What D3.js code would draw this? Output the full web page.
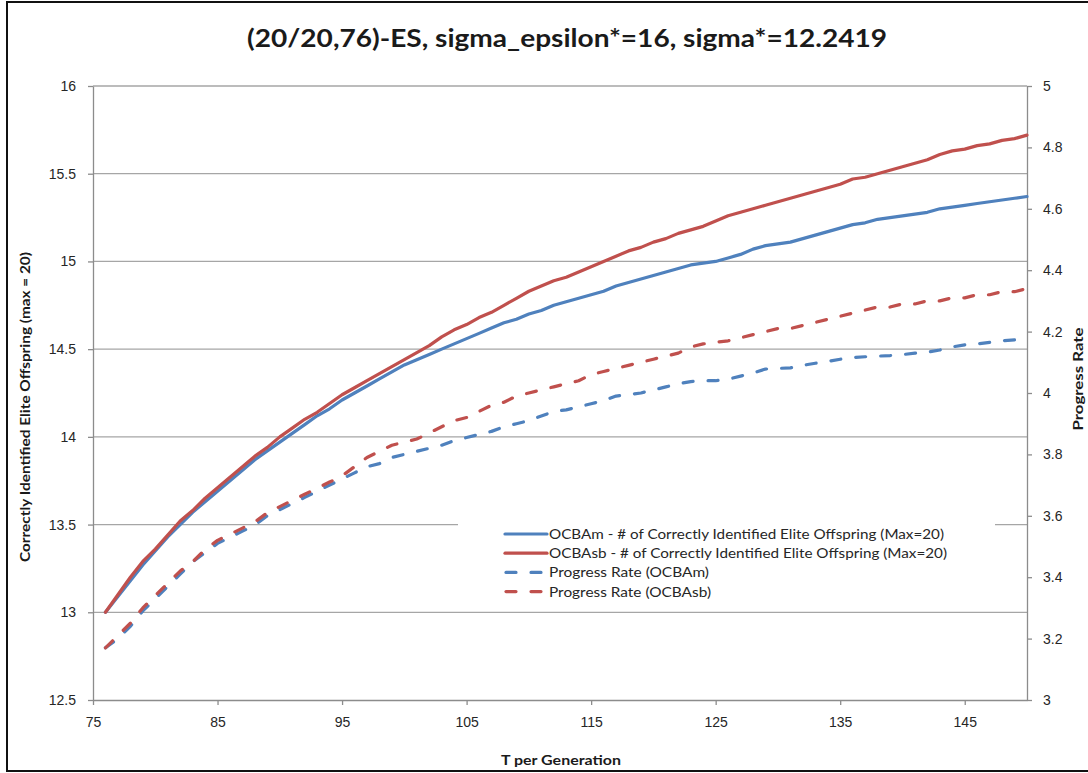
<!DOCTYPE html>
<html>
<head>
<meta charset="utf-8">
<script src="https://cdn.jsdelivr.net/npm/d3@7/dist/d3.min.js"></script>
<style>
  html, body { margin: 0; padding: 0; background: #fff; }
  svg { display: block; font-family: Lato, "Open Sans", sans-serif; }
  .axis text { font-size: 14px; fill: #262626; }
  .axis path, .axis line { stroke: #8c8c8c; stroke-width: 1.3; }
  .grid line { stroke: #a6a6a6; stroke-width: 1.3; }
</style>
</head>
<body>
<svg id="chart" width="1088" height="773"></svg>
<script>
(function() {
  "use strict";

  // T per generation (x)
  var generations = [
    76, 77, 78, 79, 80, 81, 82, 83, 84, 85, 86, 87, 88, 89, 90, 91, 92, 93, 94, 95,
    96, 97, 98, 99, 100, 101, 102, 103, 104, 105, 106, 107, 108, 109, 110, 111, 112, 113, 114, 115,
    116, 117, 118, 119, 120, 121, 122, 123, 124, 125, 126, 127, 128, 129, 130, 131, 132, 133, 134, 135,
    136, 137, 138, 139, 140, 141, 142, 143, 144, 145, 146, 147, 148, 149, 150
  ];

  // # of correctly identified elite offspring (left axis)
  var eliteOCBAm = [
    13.00, 13.09, 13.18, 13.27, 13.35, 13.43, 13.50, 13.57, 13.63, 13.69, 13.75, 13.81, 13.87, 13.92, 13.97, 14.02, 14.07, 14.12, 14.16, 14.21,
    14.25, 14.29, 14.33, 14.37, 14.41, 14.44, 14.47, 14.50, 14.53, 14.56, 14.59, 14.62, 14.65, 14.67, 14.70, 14.72, 14.75, 14.77, 14.79, 14.81,
    14.83, 14.86, 14.88, 14.90, 14.92, 14.94, 14.96, 14.98, 14.99, 15.00, 15.02, 15.04, 15.07, 15.09, 15.10, 15.11, 15.13, 15.15, 15.17, 15.19,
    15.21, 15.22, 15.24, 15.25, 15.26, 15.27, 15.28, 15.30, 15.31, 15.32, 15.33, 15.34, 15.35, 15.36, 15.37
  ];
  var eliteOCBAsb = [
    13.00, 13.10, 13.20, 13.29, 13.36, 13.44, 13.52, 13.58, 13.65, 13.71, 13.77, 13.83, 13.89, 13.94, 14.00, 14.05, 14.10, 14.14, 14.19, 14.24,
    14.28, 14.32, 14.36, 14.40, 14.44, 14.48, 14.52, 14.57, 14.61, 14.64, 14.68, 14.71, 14.75, 14.79, 14.83, 14.86, 14.89, 14.91, 14.94, 14.97,
    15.00, 15.03, 15.06, 15.08, 15.11, 15.13, 15.16, 15.18, 15.20, 15.23, 15.26, 15.28, 15.30, 15.32, 15.34, 15.36, 15.38, 15.40, 15.42, 15.44,
    15.47, 15.48, 15.50, 15.52, 15.54, 15.56, 15.58, 15.61, 15.63, 15.64, 15.66, 15.67, 15.69, 15.70, 15.72
  ];

  // progress rate (right axis)
  var progressOCBAm = [
    3.17, 3.20, 3.24, 3.29, 3.33, 3.37, 3.41, 3.45, 3.48, 3.51, 3.53, 3.55, 3.57, 3.60, 3.62, 3.64, 3.66, 3.68, 3.70, 3.72,
    3.74, 3.76, 3.77, 3.79, 3.80, 3.81, 3.82, 3.83, 3.845, 3.855, 3.865, 3.875, 3.89, 3.90, 3.91, 3.925, 3.94, 3.945, 3.955, 3.965,
    3.975, 3.99, 3.995, 4.00, 4.01, 4.02, 4.03, 4.037, 4.04, 4.04, 4.045, 4.055, 4.065, 4.078, 4.08, 4.082, 4.09, 4.097, 4.103, 4.11,
    4.115, 4.118, 4.12, 4.122, 4.125, 4.13, 4.133, 4.14, 4.15, 4.157, 4.16, 4.165, 4.17, 4.173, 4.175
  ];
  var progressOCBAsb = [
    3.17, 3.21, 3.25, 3.30, 3.34, 3.38, 3.42, 3.45, 3.49, 3.52, 3.54, 3.56, 3.58, 3.61, 3.63, 3.65, 3.67, 3.69, 3.71, 3.73,
    3.76, 3.79, 3.81, 3.83, 3.84, 3.85, 3.87, 3.89, 3.91, 3.92, 3.94, 3.96, 3.97, 3.99, 4.00, 4.01, 4.02, 4.03, 4.04, 4.06,
    4.07, 4.08, 4.09, 4.10, 4.11, 4.12, 4.13, 4.15, 4.16, 4.165, 4.17, 4.18, 4.19, 4.20, 4.21, 4.21, 4.22, 4.23, 4.24, 4.25,
    4.26, 4.27, 4.28, 4.28, 4.29, 4.29, 4.30, 4.30, 4.31, 4.31, 4.32, 4.32, 4.33, 4.33, 4.34
  ];

  var xTicks = [75, 85, 95, 105, 115, 125, 135, 145];
  var leftTicks = [12.5, 13, 13.5, 14, 14.5, 15, 15.5, 16];
  var rightTicks = [3, 3.2, 3.4, 3.6, 3.8, 4, 4.2, 4.4, 4.6, 4.8, 5];

  var seriesNames = [
    'OCBAm - # of Correctly Identified Elite Offspring (Max=20)',
    'OCBAsb - # of Correctly Identified Elite Offspring (Max=20)',
    'Progress Rate (OCBAm)',
    'Progress Rate (OCBAsb)'
  ];

  var BLUE = '#4f81bd';
  var RED = '#c0504d';
  var DASH = '10,15';

  var plot = { left: 93, right: 1027, top: 86, bottom: 700 };

  var svg = d3.select('#chart');

  var x = d3.scaleLinear().domain([75, 150]).range([plot.left, plot.right]);
  var yLeft = d3.scaleLinear().domain([12.5, 16]).range([plot.bottom, plot.top]);
  var yRight = d3.scaleLinear().domain([3, 5]).range([plot.bottom, plot.top]);

  // chart frame
  svg.append('rect')
    .attr('x', 7).attr('y', 2)
    .attr('width', 1100).attr('height', 769)
    .attr('fill', 'none')
    .attr('stroke', '#111')
    .attr('stroke-width', 2);

  // horizontal gridlines (left axis)
  svg.append('g')
    .attr('class', 'grid')
    .selectAll('line')
    .data(leftTicks.slice(1))
    .enter().append('line')
    .attr('x1', plot.left).attr('x2', plot.right)
    .attr('y1', function(d) { return yLeft(d); })
    .attr('y2', function(d) { return yLeft(d); });

  var fmt = function(d) { return String(d); };

  svg.append('g')
    .attr('class', 'axis')
    .attr('transform', 'translate(0,' + plot.bottom + ')')
    .call(d3.axisBottom(x).tickValues(xTicks).tickFormat(fmt)
      .tickSize(5).tickSizeOuter(0).tickPadding(12));

  svg.append('g')
    .attr('class', 'axis')
    .attr('transform', 'translate(' + plot.left + ',0)')
    .call(d3.axisLeft(yLeft).tickValues(leftTicks).tickFormat(fmt)
      .tickSize(5).tickSizeOuter(0).tickPadding(12));

  svg.append('g')
    .attr('class', 'axis')
    .attr('transform', 'translate(' + plot.right + ',0)')
    .call(d3.axisRight(yRight).tickValues(rightTicks).tickFormat(fmt)
      .tickSize(5).tickSizeOuter(0).tickPadding(11));

  // series lines
  function lineFor(scale) {
    return d3.line()
      .x(function(d) { return x(d[0]); })
      .y(function(d) { return scale(d[1]); });
  }

  var series = [
    { values: progressOCBAm, scale: yRight, color: BLUE, dashed: true },
    { values: progressOCBAsb, scale: yRight, color: RED, dashed: true },
    { values: eliteOCBAm, scale: yLeft, color: BLUE, dashed: false },
    { values: eliteOCBAsb, scale: yLeft, color: RED, dashed: false }
  ];

  var lines = svg.append('g').attr('class', 'lines');
  series.forEach(function(s) {
    var pts = generations.map(function(g, i) { return [g, s.values[i]]; });
    lines.append('path')
      .datum(pts)
      .attr('d', lineFor(s.scale))
      .attr('fill', 'none')
      .attr('stroke', s.color)
      .attr('stroke-width', 3.2)
      .attr('stroke-linejoin', 'round')
      .attr('stroke-linecap', 'round')
      .attr('stroke-dasharray', s.dashed ? DASH : null);
  });

  // legend (white box covers the gridline behind it)
  var legend = svg.append('g').attr('class', 'legend');
  legend.append('rect')
    .attr('x', 458).attr('y', 513)
    .attr('width', 537).attr('height', 92)
    .attr('fill', '#fff');

  var legendItems = [
    { name: seriesNames[0], color: BLUE, dashed: false, width: 395 },
    { name: seriesNames[1], color: RED, dashed: false, width: 398 },
    { name: seriesNames[2], color: BLUE, dashed: true, width: 160 },
    { name: seriesNames[3], color: RED, dashed: true, width: 162 }
  ];

  var row = legend.selectAll('g.item')
    .data(legendItems)
    .enter().append('g')
    .attr('class', 'item')
    .attr('transform', function(d, i) { return 'translate(0,' + (534 + i * 19.2) + ')'; });

  row.append('line')
    .attr('x1', function(d) { return d.dashed ? 506 : 505; })
    .attr('x2', 547)
    .attr('stroke', function(d) { return d.color; })
    .attr('stroke-width', 3.2)
    .attr('stroke-linecap', 'round')
    .attr('stroke-dasharray', function(d) { return d.dashed ? DASH : null; });

  row.append('text')
    .attr('x', 549)
    .attr('dy', '0.35em')
    .attr('font-size', 14)
    .attr('fill', '#262626')
    .attr('textLength', function(d) { return d.width; })
    .attr('lengthAdjust', 'spacingAndGlyphs')
    .text(function(d) { return d.name; });

  // titles
  svg.append('text')
    .attr('x', 567).attr('y', 47)
    .attr('text-anchor', 'middle')
    .attr('font-size', 25)
    .attr('font-weight', 'bold')
    .attr('fill', '#1a1a1a')
    .attr('textLength', 640)
    .attr('lengthAdjust', 'spacingAndGlyphs')
    .text('(20/20,76)-ES, sigma_epsilon*=16, sigma*=12.2419');

  svg.append('text')
    .attr('transform', 'translate(30,407) rotate(-90)')
    .attr('text-anchor', 'middle')
    .attr('font-size', 13)
    .attr('font-weight', 'bold')
    .attr('fill', '#1a1a1a')
    .attr('textLength', 310)
    .attr('lengthAdjust', 'spacingAndGlyphs')
    .text('Correctly Identified Elite Offspring (max = 20)');

  svg.append('text')
    .attr('transform', 'translate(1083,379) rotate(-90)')
    .attr('text-anchor', 'middle')
    .attr('font-size', 13)
    .attr('font-weight', 'bold')
    .attr('fill', '#1a1a1a')
    .attr('textLength', 103)
    .attr('lengthAdjust', 'spacingAndGlyphs')
    .text('Progress Rate');

  svg.append('text')
    .attr('x', 561).attr('y', 765)
    .attr('text-anchor', 'middle')
    .attr('font-size', 14)
    .attr('font-weight', 'bold')
    .attr('fill', '#1a1a1a')
    .attr('textLength', 120)
    .attr('lengthAdjust', 'spacingAndGlyphs')
    .text('T per Generation');
})();
</script>
</body>
</html>
